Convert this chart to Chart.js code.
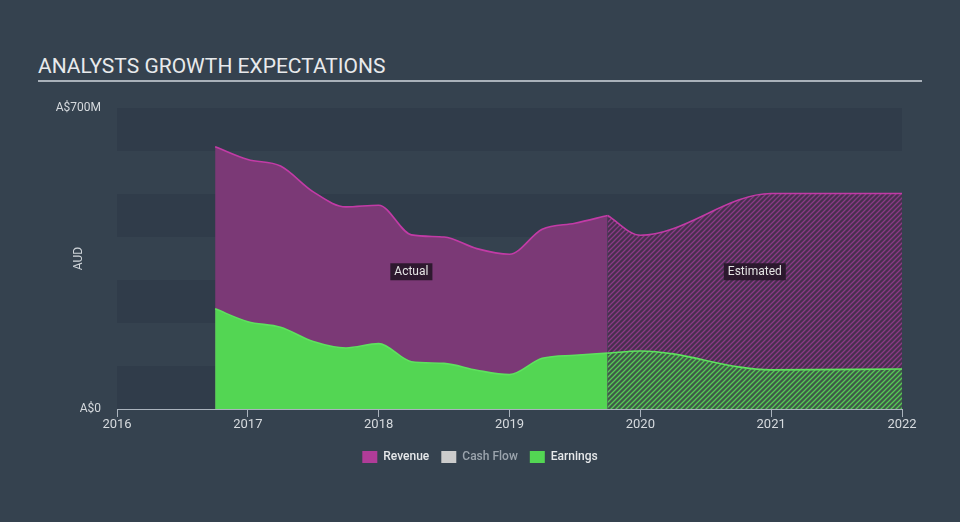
<!DOCTYPE html>
<html>
<head>
<meta charset="utf-8">
<script src="https://cdn.jsdelivr.net/npm/chart.js@4.4.0/dist/chart.umd.min.js"></script>
<style>
  html, body { margin: 0; padding: 0; }
  body { width: 960px; height: 522px; background: #35424f; position: relative; overflow: hidden; font-family: Roboto, "Noto Sans", sans-serif; }
  #title { position: absolute; left: 38px; top: 54px; width: 884px; color: #e8eaec; font-size: 21px; line-height: 24px; padding-bottom: 2px; border-bottom: 2px solid #a9b1ba; }
  #chart { position: absolute; left: 0; top: 0; }
</style>
</head>
<body>
<div id="title">ANALYSTS GROWTH EXPECTATIONS</div>
<canvas id="chart" width="960" height="522"></canvas>
<script>
// actual figures (A$M), by fractional year
const actualYears    = [2016.75, 2017.0, 2017.25, 2017.5, 2017.75, 2018.0, 2018.25, 2018.5, 2018.75, 2019.0, 2019.25, 2019.5, 2019.75];
const actualRevenue  = [610, 580, 565, 505, 470, 474, 405, 400, 373, 360, 418, 432, 450];
const actualEarnings = [233, 203, 190, 157, 142, 152, 110, 106, 90, 80, 118, 125, 130];

// analyst estimates
const estYears    = [2019.75, 2020.0, 2021.0, 2022.0];
const estRevenue  = [450, 404, 501, 501];
const estEarnings = [130, 135, 91, 93];

const yTicks = [0, 700];
const legendNames = ['Revenue', 'Cash Flow', 'Earnings'];

const toPoints = (xs, ys) => xs.map((x, i) => ({x: x, y: ys[i]}));

// diagonal hatch used for the estimated part
function hatch(bg, fg) {
  const c = document.createElement('canvas');
  c.width = 5; c.height = 5;
  const g = c.getContext('2d');
  g.fillStyle = bg;
  g.fillRect(0, 0, 5, 5);
  g.strokeStyle = fg;
  g.lineWidth = 1.3;
  g.beginPath();
  g.moveTo(0, 5); g.lineTo(5, 0);
  g.moveTo(-1, 1); g.lineTo(1, -1);
  g.moveTo(4, 6); g.lineTo(6, 4);
  g.stroke();
  return g.createPattern(c, 'repeat');
}

const revLine = '#c23ba6';
const revFill = '#7b3976';
const earnLine = '#5ee25e';
const earnFill = '#53d653';

// darker bands behind every other 100M step
const bandPlugin = {
  id: 'bands',
  beforeDatasetsDraw(chart) {
    const {ctx, chartArea: a, scales: {y}} = chart;
    ctx.save();
    ctx.fillStyle = '#303c4a';
    for (let v = 0; v < 700; v += 200) {
      const top = y.getPixelForValue(v + 100);
      const bot = y.getPixelForValue(v);
      ctx.fillRect(a.left, top, a.right - a.left, bot - top);
    }
    ctx.restore();
  }
};

// centre the legend on the whole canvas, not on the padded box
const legendCenter = {
  id: 'legendCenter',
  afterLayout(chart) {
    if (chart.legend) {
      chart.legend.left = 0;
      chart.legend.right = chart.width;
      chart.legend.width = chart.width;
    }
  }
};

// "Actual" / "Estimated" tags
const tagPlugin = {
  id: 'tags',
  afterDatasetsDraw(chart) {
    const {ctx, scales: {x, y}} = chart;
    const tags = [
      ['Actual', (actualYears[0] + actualYears[actualYears.length - 1]) / 2],
      ['Estimated', (estYears[0] + estYears[estYears.length - 1]) / 2]
    ];
    ctx.save();
    ctx.font = '12px Roboto, sans-serif';
    ctx.textAlign = 'center';
    ctx.textBaseline = 'middle';
    for (const [txt, yr] of tags) {
      const px = x.getPixelForValue(yr);
      const py = y.getPixelForValue(318);
      const w = ctx.measureText(txt).width + 8;
      ctx.fillStyle = 'rgba(38,22,40,0.9)';
      ctx.fillRect(px - w / 2, py - 9, w, 17);
      ctx.fillStyle = '#e4e4e4';
      ctx.fillText(txt, px, py);
    }
    ctx.restore();
  }
};

const ctx = document.getElementById('chart').getContext('2d');
new Chart(ctx, {
  type: 'line',
  data: {
    datasets: [
      {label: 'Earnings', data: toPoints(actualYears, actualEarnings), borderColor: earnLine, backgroundColor: earnFill, fill: 'origin', order: 1},
      {label: 'Earnings est', data: toPoints(estYears, estEarnings), borderColor: earnLine, backgroundColor: hatch('#3f5a48', '#56c856'), fill: 'origin', order: 0},
      {label: 'Revenue', data: toPoints(actualYears, actualRevenue), borderColor: revLine, backgroundColor: revFill, fill: 'origin', order: 3},
      {label: 'Revenue est', data: toPoints(estYears, estRevenue), borderColor: revLine, backgroundColor: hatch('#47304e', '#8a3a86'), fill: 'origin', order: 2}
    ]
  },
  options: {
    responsive: false,
    animation: false,
    devicePixelRatio: 1,
    elements: {
      line: {borderWidth: 1.6, cubicInterpolationMode: 'monotone'},
      point: {radius: 0, hoverRadius: 0}
    },
    layout: {padding: {left: 0, top: 108, right: 58, bottom: 49}},
    scales: {
      x: {
        type: 'linear', min: 2016, max: 2022,
        afterFit(s) { s.height = 30; },
        grid: {drawOnChartArea: false, drawTicks: true, tickLength: 8, color: '#aab3bd'},
        border: {color: '#aab3bd'},
        ticks: {stepSize: 1, padding: 0, color: '#d6dade', font: {family: 'Roboto', size: 13}, callback: v => String(v)}
      },
      y: {
        min: 0, max: 700,
        afterFit(s) { s.width = 117; },
        afterBuildTicks(s) { s.ticks = yTicks.map(v => ({value: v})); },
        grid: {display: false, drawTicks: false},
        border: {display: false},
        ticks: {padding: 16, color: '#d6dade', font: {family: 'Roboto', size: 12}, callback: v => v === 0 ? 'A$0' : 'A$' + v + 'M'},
        title: {display: true, text: 'AUD', color: '#cfd4d9', font: {family: 'Roboto', size: 12}, padding: {top: 72, bottom: 0}}
      }
    },
    plugins: {
      tooltip: {enabled: false},
      legend: {
        position: 'bottom',
        onClick: null,
        labels: {
          boxWidth: 15, boxHeight: 12, padding: 12,
          font: {family: 'Roboto', size: 12, weight: '500'},
          generateLabels: () => [
            {text: legendNames[0], fillStyle: '#b03c98', strokeStyle: '#b03c98', lineWidth: 0, fontColor: '#e6e8ea'},
            {text: legendNames[1], fillStyle: '#cccccc', strokeStyle: '#cccccc', lineWidth: 0, fontColor: '#9ba4ad'},
            {text: legendNames[2], fillStyle: '#53d653', strokeStyle: '#53d653', lineWidth: 0, fontColor: '#e6e8ea'}
          ]
        }
      }
    }
  },
  plugins: [bandPlugin, legendCenter, tagPlugin]
});
</script>
</body>
</html>
